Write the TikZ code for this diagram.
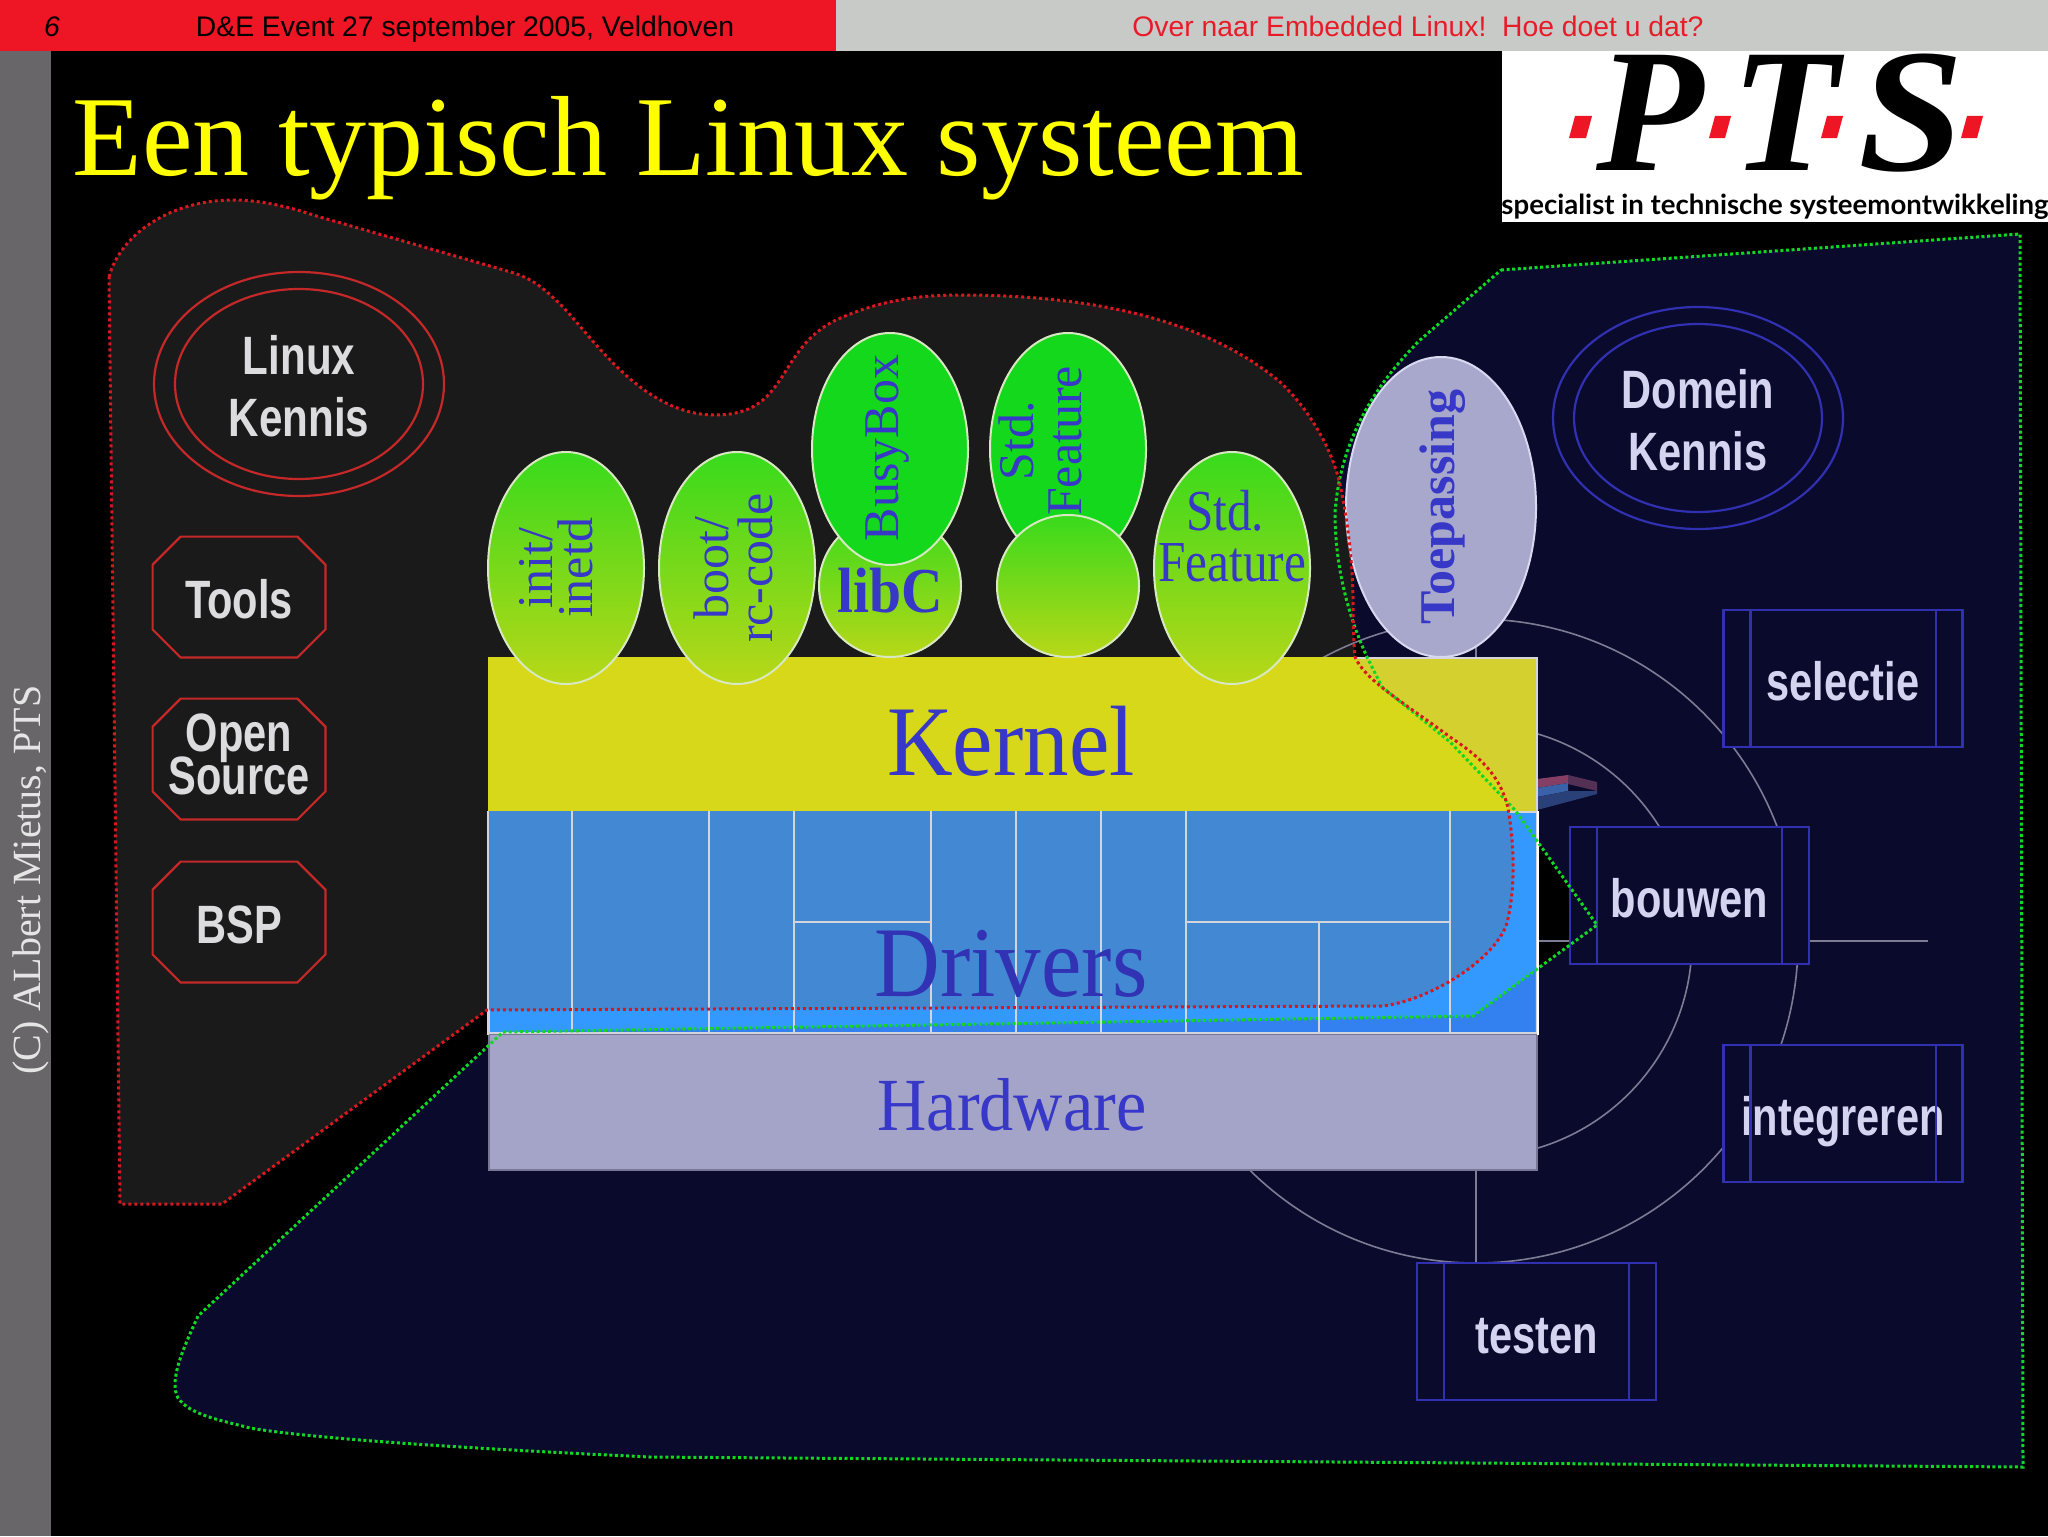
\documentclass[tikz,border=0pt]{standalone}
\usepackage{graphicx}
\usepackage{fontspec}
\setmainfont{Liberation Serif}
\setsansfont{Liberation Sans}
\newfontfamily\latofont{Lato}
\usetikzlibrary{shapes.geometric}
\setlength\lineskiplimit{-50pt}
\setlength\normallineskiplimit{-50pt}
\definecolor{navy}{HTML}{0A0A2D}
\definecolor{dark}{HTML}{1A1A1A}
\definecolor{redline}{HTML}{D81820}
\definecolor{greenline}{HTML}{10D824}
\definecolor{ink}{HTML}{3838C8}
\definecolor{lav}{HTML}{D4D4F0}
\definecolor{lgray}{HTML}{DCDCDE}
\definecolor{ringred}{HTML}{C42828}
\definecolor{ringblue}{HTML}{3030B0}
\definecolor{ringgray}{HTML}{7C7C94}
\definecolor{edge}{HTML}{D4D4DC}
\definecolor{ovedge}{HTML}{D8E8C0}
\definecolor{barred}{HTML}{EE1525}
\definecolor{hdrred}{HTML}{E81C28}
\definecolor{ovA}{HTML}{38DA1C}
\definecolor{ovM}{HTML}{68D81C}
\definecolor{ovB}{HTML}{B8D818}
\definecolor{ovC}{HTML}{14D81C}
\newcommand{\sq}[2]{\scalebox{#1}[1]{#2}}
\newcommand{\redblob}{(109,277) .. controls (120,235) and (170,200) .. (233,200) .. controls (260,200) and (290,207) .. (313,215) -- (514,273) .. controls (535,280) and (545,290) .. (559,303) .. controls (590,333) and (640,415) .. (715,415) .. controls (790,415) and (775,350) .. (836,320) .. controls (880,300) and (920,295) .. (960,295) .. controls (1080,295) and (1200,315) .. (1280,382) .. controls (1305,405) and (1327,440) .. (1337,473) .. controls (1345,500) and (1353,560) .. (1353,600) .. controls (1353,630) and (1354,645) .. (1355,657) .. controls (1365,680) and (1400,700) .. (1450,737) .. controls (1480,757) and (1500,775) .. (1508,808) .. controls (1515,850) and (1515,890) .. (1507,923) .. controls (1495,960) and (1430,1000) .. (1383,1006) -- (487,1010) -- (222,1204) -- (120,1204) -- cycle}
\newcommand{\greenblob}{(1501,270) -- (2020,234) -- (2023,1467) -- (650,1457) .. controls (500,1450) and (320,1440) .. (250,1428) .. controls (220,1420) and (190,1415) .. (178,1398) .. controls (168,1380) and (185,1345) .. (198,1316) -- (503,1032) -- (1473,1016) -- (1597,925) -- (1515,810) -- (1450,742) -- (1382,687) -- (1367,657) .. controls (1350,620) and (1335,570) .. (1335,513) .. controls (1340,440) and (1375,385) .. (1420,340) -- cycle}
\newcommand{\toolframe}[1]{\draw[ringred,line width=1.1pt] ([xshift=14pt]#1.north west) -- ([xshift=-14pt]#1.north east) -- ([yshift=-14pt]#1.north east) -- ([yshift=14pt]#1.south east) -- ([xshift=-14pt]#1.south east) -- ([xshift=14pt]#1.south west) -- ([yshift=14pt]#1.south west) -- ([yshift=-14pt]#1.north west) -- cycle;}
\tikzset{
  blobred/.style={draw=redline,line width=1.5pt,dash pattern=on 1.5pt off 1.5pt},
  blobgreen/.style={draw=greenline,line width=1.5pt,dash pattern=on 1.5pt off 1.3pt},
  ring/.style={ellipse,draw,line width=1.1pt,inner sep=0pt},
  orbit/.style={draw=ringgray,line width=0.8pt},
  layer/.style={rectangle,draw=edge,line width=1.1pt,inner sep=0pt,anchor=north west},
  cell/.style={draw=edge,line width=1pt},
  ov/.style={ellipse,draw=ovedge,line width=1pt,inner sep=0pt,minimum width=78pt,minimum height=116pt},
  ovlow/.style={ov,top color=ovA,middle color=ovM,bottom color=ovB},
  ovhigh/.style={ov,fill=ovC},
  ovtext/.style={align=center,text=ink,font=\fontsize{25}{#1}\selectfont,inner sep=0pt},
  ovtext/.default=25,
  flattext/.style={align=center,text=ink,font=\fontsize{29}{#1}\selectfont,inner sep=0pt},
  lefttext/.style={align=center,text=lgray,font=\fontsize{27}{#1}\selectfont\sffamily\bfseries,inner sep=0pt},
  righttext/.style={align=center,text=lav,font=\fontsize{27}{31}\selectfont\sffamily\bfseries,inner sep=0pt},
  toolbox/.style={rectangle,minimum width=86pt,minimum height=60pt,inner sep=0pt,text=lgray,font=\fontsize{27}{27}\selectfont\sffamily\bfseries,text height=21pt,text depth=0pt},
  stepbox/.style={rectangle,draw=ringblue,fill=navy,line width=1.2pt,minimum width=119.5pt,minimum height=68.5pt,inner sep=0pt,text=lav,font=\fontsize{27}{30}\selectfont\sffamily\bfseries,text height=21.5pt,text depth=0pt},
  head/.style={font=\fontsize{14.15}{16}\selectfont\sffamily,inner sep=0pt,anchor=base},
  pts/.style={font=\fontsize{88}{88}\selectfont\bfseries\itshape,text=black,inner sep=0pt,anchor=base},
  ptsdot/.style={fill=barred,draw=none}
}
\begin{document}
\begin{tikzpicture}[x=0.5pt,y=-0.5pt]
\useasboundingbox (0,0) rectangle (2048,1536);
\fill[black] (0,0) rectangle (2048,1536);
% side and top bars
\fill[fill={rgb,255:red,104;green,102;blue,104}] (0,0) rectangle (51,1536);
\fill[barred] (0,0) rectangle (836,51);
\fill[fill={rgb,255:red,200;green,202;blue,200}] (836,0) rectangle (2048,51);
\node[head,text=black,font=\fontsize{14.15}{16}\selectfont\sffamily\itshape] (pageno) at (52,37) {6};
\node[head,text=black] (event) at (465,37) {D\&E Event 27 september 2005, Veldhoven};
\node[head,text=hdrred] (talk) at (1418,37) {Over naar Embedded Linux!\ \ Hoe doet u dat?};
\node[rotate=90,text=black!10,font=\fontsize{20}{21}\selectfont,inner sep=0pt] (credit) at (31,880) {(C) ALbert Mietus, PTS};
% title
\node[text={rgb,255:red,255;green,255;blue,0},font=\fontsize{57}{60}\selectfont,inner sep=0pt,anchor=base west] (title) at (72,175) {Een typisch Linux systeem};
% logo
\fill[white] (1502,51) rectangle (2048,222);
\node[pts] (logoP) at (1650,170) {P};
\node[pts] (logoT) at (1785,170) {T};
\node[pts] (logoS) at (1911,170) {\sq{1.08}{S}};
\fill[ptsdot] (1575,116) -- (1592,116) -- (1586,138) -- (1569,138) -- cycle;
\fill[ptsdot] (1715,116) -- (1731,116) -- (1725,138) -- (1709,138) -- cycle;
\fill[ptsdot] (1827,116) -- (1843,116) -- (1837,138) -- (1821,138) -- cycle;
\fill[ptsdot] (1967,116) -- (1983,116) -- (1977,138) -- (1961,138) -- cycle;
\node[font=\fontsize{13.8}{14}\selectfont\latofont\bfseries,text=black,inner sep=0pt,anchor=base] (slogan) at (1775,214) {specialist in technische systeemontwikkeling};
% regions
\fill[navy] \greenblob;
\fill[dark] \redblob;
% process cycle
\coordinate (hub) at (1476,941);
\draw[orbit] (hub) circle[radius=161pt];
\draw[orbit] (hub) circle[radius=108pt];
\coordinate (lineE) at (1928,941);
\coordinate (lineT) at (1476,619);
\coordinate (lineB) at (1476,1263);
\draw[orbit] (hub) -- (lineE);
\draw[orbit] (hub) -- (lineT);
\draw[orbit] (hub) -- (lineB);
% small prism
\fill[fill={rgb,255:red,135;green,62;blue,100}] (1537,779) -- (1568,775) -- (1568,783) -- (1537,788) -- cycle;
\fill[fill={rgb,255:red,85;green,48;blue,85}] (1568,775) -- (1597,782) -- (1597,791) -- (1568,784) -- cycle;
\fill[fill={rgb,255:red,58;green,98;blue,168}] (1537,788) -- (1568,783) -- (1568,791) -- (1537,797) -- cycle;
\fill[fill={rgb,255:red,42;green,64;blue,120}] (1537,797) -- (1568,791) -- (1597,791) -- (1597,794) -- (1537,810) -- cycle;
% stack
\node[layer,fill={rgb,255:red,212;green,208;blue,48},minimum width=524pt,minimum height=77pt] (kernelbox) at (488,657) {};
\begin{scope}
\clip (488,657) rectangle (1536,811);
\fill[fill={rgb,255:red,216;green,216;blue,26}] \redblob;
\end{scope}
\node[layer,fill={rgb,255:red,51;green,153;blue,255},minimum width=524pt,minimum height=111pt] (driversbox) at (488,811) {};
\begin{scope}
\clip (488,811) rectangle (1535,1033);
\fill[fill={rgb,255:red,66;green,136;blue,210}] \redblob;
\fill[fill={rgb,255:red,51;green,128;blue,240}] (488,1034) -- (503,1032) -- (1473,1016) -- (1536,970) -- (1536,1034) -- cycle;
\end{scope}
\draw[cell] (572,811) -- (572,1033);
\draw[cell] (709,811) -- (709,1033);
\draw[cell] (794,811) -- (794,1033);
\draw[cell] (931,811) -- (931,1033);
\draw[cell] (1016,811) -- (1016,1033);
\draw[cell] (1101,811) -- (1101,1033);
\draw[cell] (1186,811) -- (1186,1033);
\draw[cell] (1450,811) -- (1450,1033);
\draw[cell] (1319,922) -- (1319,1033);
\draw[cell] (794,922) -- (931,922);
\draw[cell] (1186,922) -- (1450,922);
\node[layer,draw={rgb,255:red,120;green,120;blue,150},fill={rgb,255:red,164;green,164;blue,200},minimum width=524pt,minimum height=68pt] (hardwarebox) at (488,1033) {};
\draw[edge,line width=1.1pt] (hardwarebox.north west) -- (hardwarebox.north east);
\draw[edge,line width=1.1pt] (driversbox.north west) -- (driversbox.south west);
\draw[white,line width=1.1pt] (driversbox.north east) -- (driversbox.south east);
\node[text=ink,font=\fontsize{50}{50}\selectfont,inner sep=0pt] (kerneltext) at (1011,741) {\sq{0.91}{Kernel}};
\node[text=ink!90!black,font=\fontsize{50}{50}\selectfont,inner sep=0pt] (driverstext) at (1011,964) {\sq{0.91}{Drivers}};
\node[text=ink,font=\fontsize{37.5}{40}\selectfont,inner sep=0pt] (hardwaretext) at (1012,1105) {\sq{0.91}{Hardware}};
% ovals
\node[ovlow] (init) at (566,568) {};
\node[ovlow] (boot) at (737,568) {};
\node[ovlow,minimum width=71pt,minimum height=71pt] (libc) at (890,586) {};
\node[ovhigh] (busybox) at (890,449) {};
\node[ovhigh] (stdtop) at (1068,449) {};
\node[ovlow] (stdlow) at (1232,568) {};
\node[ovtext=20,rotate=90] (inittext) at (556,568) {init/\\inetd};
\node[ovtext=22,rotate=90] (boottext) at (733,568) {boot/\\rc-code};
\node[text=ink,font=\fontsize{32}{32}\selectfont\bfseries,inner sep=0pt] (libctext) at (890,591) {\sq{0.9}{libC}};
\node[ovtext,rotate=90] (busytext) at (888,448) {BusyBox};
\node[ovtext=24,rotate=90] (stdtoptext) at (1040,441) {Std.\hspace{12pt}\\Feature};
\node[ovlow,minimum width=71pt,minimum height=71pt] (blank) at (1068,586) {};
\node[flattext=25.5] (stdlowtext) at (1232,536) {\sq{0.85}{Std.\hspace{8pt}}\\\sq{0.85}{Feature}};
\node[ellipse,draw={rgb,255:red,216;green,216;blue,240},line width=1pt,inner sep=0pt,fill={rgb,255:red,168;green,168;blue,204},minimum width=95pt,minimum height=150pt] (toep) at (1441,507) {};
\node[text=ink,font=\fontsize{25}{26}\selectfont\bfseries,rotate=90,inner sep=0pt] (toeptext) at (1443,507) {Toepassing};
% knowledge rings
\node[ring,draw=ringred,minimum width=145pt,minimum height=112pt] (lkouter) at (299,384) {};
\node[ring,draw=ringred,minimum width=124pt,minimum height=95pt] (lkinner) at (299,384) {};
\node[lefttext=31] (lktext) at (299,386) {\sq{0.78}{Linux}\\\sq{0.78}{Kennis}};
\node[ring,draw=ringblue,minimum width=145pt,minimum height=111pt] (dkouter) at (1698,418) {};
\node[ring,draw=ringblue,minimum width=124pt,minimum height=94pt] (dkinner) at (1698,418) {};
\node[righttext] (dktext) at (1698,420) {\sq{0.77}{Domein}\\\sq{0.77}{Kennis}};
% tool boxes
\node[toolbox] (tools) at (239,597) {\sq{0.77}{Tools}};
\node[toolbox] (opensrc) at (239,759) {};
\node[lefttext=21.5] (opensrctext) at (239,754) {\sq{0.77}{Open}\\\sq{0.77}{Source}};
\node[toolbox] (bsp) at (239,922) {\sq{0.77}{BSP}};
\toolframe{tools}
\toolframe{opensrc}
\toolframe{bsp}
% process boxes
\node[stepbox] (selectie) at (1843,678.5) {\sq{0.77}{selectie}};
\node[stepbox] (bouwen) at (1689.5,895.5) {\sq{0.77}{bouwen}};
\node[stepbox] (integreren) at (1843,1113.5) {\sq{0.77}{integreren}};
\node[stepbox] (testen) at (1536.5,1331.5) {\sq{0.77}{testen}};
\foreach \b in {selectie,bouwen,integreren,testen}{
  \draw[ringblue,line width=1.2pt] ([xshift=14pt]\b.north west) -- ([xshift=14pt]\b.south west);
  \draw[ringblue,line width=1.2pt] ([xshift=-14pt]\b.north east) -- ([xshift=-14pt]\b.south east);
}
% dotted outlines
\draw[blobgreen] \greenblob;
\draw[blobred] \redblob;
\end{tikzpicture}
\end{document}
